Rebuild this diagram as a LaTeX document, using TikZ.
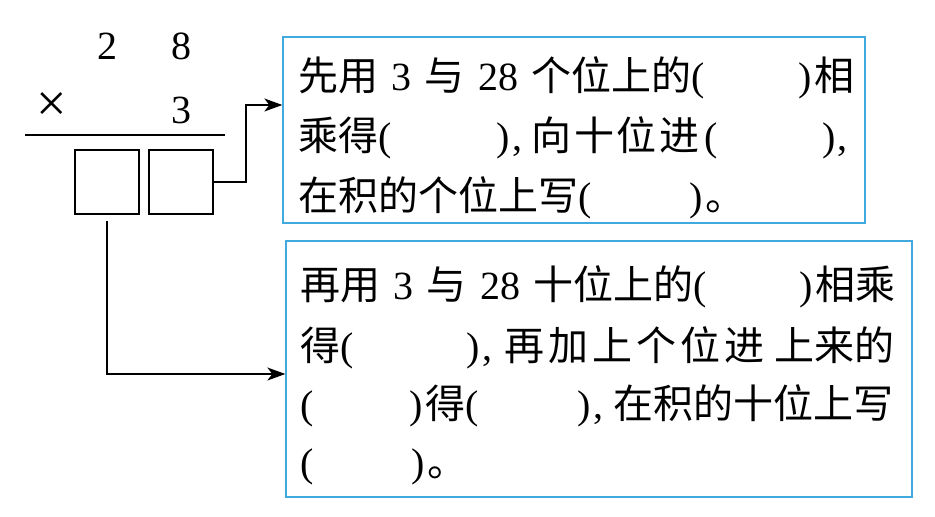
\documentclass[tikz,border=0pt]{standalone}
\usepackage{fontspec}
\setmainfont{Liberation Serif}[WordSpace=1.33]
\usetikzlibrary{arrows.meta}
\newfontfamily\cjk{Noto Sans CJK SC}
\newcommand\zh[1]{{\cjk #1}}
\newcommand\bl[1]{\makebox[15.6pt][l]{(}\hspace{#1}\makebox[15.6pt][l]{)}}
\newcommand\cm{\makebox[11pt][l]{,}}
\definecolor{boxblue}{RGB}{64,170,222}
\begin{document}
\begin{tikzpicture}[x=1pt,y=-1pt,
  every node/.style={font=\fontsize{40}{48}\selectfont},
  digit/.style={inner sep=0pt, anchor=center},
  txt/.style={inner sep=0pt, anchor=base west},
  numbox/.style={draw=black, line width=1.4pt, minimum width=64pt, minimum height=64pt, inner sep=0pt},
  infobox/.style={draw=boxblue, line width=1.3pt, inner sep=0pt},
  conn/.style={draw=black, line width=1.4pt, -{Stealth[length=18pt,width=13pt,inset=5pt]}}]
\useasboundingbox (0,0) rectangle (935,517);
% multiplication
\node[digit] (d2) at (107,46) {2};
\node[digit] (d8) at (181,46) {8};
\node[digit, font=\fontsize{54}{60}\selectfont] (times) at (52,107) {×};
\node[digit] (d3) at (181,110) {3};
\coordinate (rl) at (25,135);
\coordinate (rr) at (225,135);
\draw[line width=1.4pt] (rl) -- (rr);
\node[numbox] (box1) at (107,182) {};
\node[numbox] (box2) at (181,182) {};
% info boxes
\node[infobox, minimum width=582pt, minimum height=186pt] (topbox) at (574,130) {};
\node[infobox, minimum width=626pt, minimum height=256pt] (botbox) at (599,369) {};
% top text
\node[txt] (a1) at (298,90) {\zh{先用} 3 \zh{与} 28 \zh{个位上的}\bl{92pt}\zh{相}};
\node[txt] (a2) at (298,150) {\zh{乘得}\bl{103pt}\cm\hspace{8pt}\zh{向\hspace{2.7pt}十\hspace{2.7pt}位\hspace{2.7pt}进}\hspace{5pt}\bl{102pt}\cm};
\node[txt] (a3) at (298,210) {\zh{在积的个位上写}\bl{96pt}\zh{。}};
% bottom text
\node[txt] (b1) at (300,299) {\zh{再用} 3 \zh{与} 28 \zh{十位上的}\bl{91pt}\zh{相乘}};
\node[txt] (b2) at (300,360) {\zh{得}\bl{111pt}\cm\hspace{11pt}\zh{再\hspace{4pt}加\hspace{4pt}上\hspace{4pt}个\hspace{4pt}位\hspace{4pt}进}\hspace{10pt}\zh{上来的}};
\node[txt] (b3) at (300,418) {\bl{94pt}\zh{得}\bl{97pt}\cm\hspace{9pt}\zh{在积的十位上写}};
\node[txt] (b4) at (300,476) {\bl{96pt}\zh{。}};
% connectors
\coordinate (k1) at (246,105);
\coordinate (t1) at (topbox.west |- k1);
\draw[conn] (box2.east) -| (k1) -- (t1);
\coordinate (k2) at (107,374);
\coordinate (t2) at (botbox.west |- k2);
\draw[conn, shorten <=6pt] (box1.south) -- (k2) -- (t2);
\end{tikzpicture}
\end{document}
